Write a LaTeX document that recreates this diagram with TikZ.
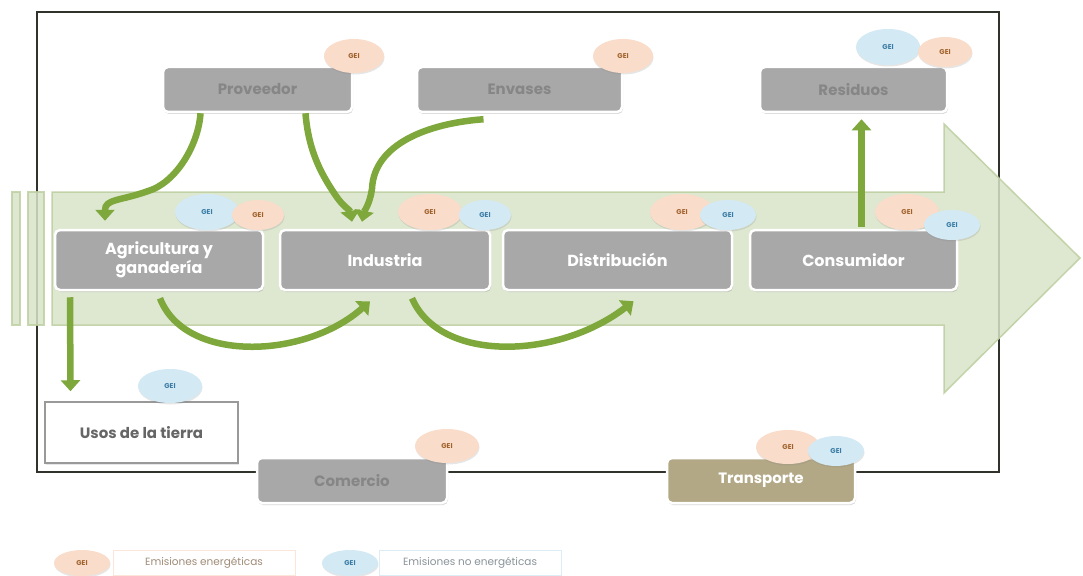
\documentclass[tikz,border=0pt]{standalone}
\usepackage{fontspec}
\setmainfont{Poppins}
\usetikzlibrary{arrows.meta,shadows,shapes.geometric,calc}
\definecolor{boxgray}{HTML}{A8A8A8}
\definecolor{toptext}{HTML}{868686}
\definecolor{arrowfill}{HTML}{D8E3C8}
\definecolor{arrowborder}{HTML}{BFD0A3}
\definecolor{ggreen}{HTML}{7EA83C}
\definecolor{framec}{HTML}{30332B}
\definecolor{ofill}{HTML}{F9DCC9}
\definecolor{otext}{HTML}{A0622D}
\definecolor{bfill}{HTML}{D3E9F4}
\definecolor{btext}{HTML}{3A7CA5}
\definecolor{tan}{HTML}{B3A885}
\definecolor{legtext}{HTML}{A08C78}
\definecolor{legtextb}{HTML}{8A9499}
\begin{document}
\begin{tikzpicture}[x=1pt,y=-1pt,
  box/.style={draw=white, line width=2.5pt, fill=boxgray, rounded corners=5pt,
    inner sep=0pt, align=center,
    drop shadow={opacity=0.3, shadow xshift=1pt, shadow yshift=-2pt}},
  topbox/.style={box, minimum height=45pt, text=toptext, font=\fontsize{15}{17}\selectfont\bfseries},
  midbox/.style={box, minimum height=60pt, text=white, font=\fontsize{16}{18}\selectfont\bfseries},
  gei/.style={ellipse, inner sep=0pt, minimum width=60pt, minimum height=34pt,
    font=\fontsize{7}{7}\selectfont\bfseries,
    drop shadow={opacity=0.2, shadow xshift=0.5pt, shadow yshift=-1.5pt}},
  geiO/.style={gei, fill=ofill, text=otext},
  geiB/.style={gei, fill=bfill, text=btext},
  garrow/.style={draw=ggreen, line width=6.5pt, -{Triangle[length=11pt,width=19pt]}},
  legbox/.style={draw=#1, line width=0.8pt, fill=white, minimum height=25pt, inner sep=0pt,
    font=\fontsize{10.5}{12}\selectfont}
]
\useasboundingbox (0,0) rectangle (1083,575);
% frame
\draw[framec, line width=2.5pt] (37,12) rectangle (999,472);
% big arrow
\fill[arrowfill, opacity=0.85] (52,192) -- (944,192) -- (944,124) -- (1080,258) -- (944,393) -- (944,325) -- (52,325) -- cycle;
\draw[arrowborder, line width=1.5pt, opacity=0.9] (52,192) -- (944,192) -- (944,124) -- (1080,258) -- (944,393) -- (944,325) -- (52,325) -- cycle;
% stripes
\draw[arrowborder, fill=arrowfill, line width=1.5pt, opacity=0.85] (12,192) rectangle (20,325);
\draw[arrowborder, fill=arrowfill, line width=1.5pt, opacity=0.85] (28,192) rectangle (44,325);

% boxes
\node[topbox, minimum width=189pt] (prov) at (257.5,89.5) {Proveedor};
\node[topbox, minimum width=205pt] (env) at (519.5,89.5) {Envases};
\node[topbox, minimum width=187pt] (res) at (853.5,89.5) {Residuos};
\node[midbox, minimum width=208pt] (agri) at (159,260) {Agricultura y\\[1pt]ganadería};
\node[midbox, minimum width=210pt] (ind) at (385,260) {Industria};
\node[midbox, minimum width=229pt] (dist) at (617.5,260) {Distribución};
\node[midbox, minimum width=207pt] (cons) at (853.5,260) {Consumidor};
\node[draw=gray!80, line width=1.5pt, fill=white, minimum width=193pt, minimum height=61pt,
  inner sep=0pt, text=black!60, font=\fontsize{15}{17}\selectfont\bfseries,
  drop shadow={opacity=0.2, shadow xshift=1pt, shadow yshift=-2pt}] (usos) at (141.5,432.5) {Usos de la tierra};
\node[topbox, minimum width=190pt] (com) at (352,480.5) {Comercio};
\node[topbox, minimum width=188pt, fill=tan, text=white] (trans) at (761,480.5) {Transporte};

% green connectors
\draw[garrow] ([xshift=-57pt]prov.south) .. controls +(-2,32) and +(28,-8) .. ([xshift=-110pt,yshift=-78pt]prov.south)
  .. controls +(-28,10) and +(0,-22) .. ([xshift=-54pt,yshift=8pt]agri.north);
\draw[garrow] ([xshift=48pt]prov.south) .. controls +(3,40) and +(-12,-18) .. ([xshift=78pt,yshift=-82pt]prov.south)
  .. controls +(8,12) and +(-2,-12) .. ([xshift=-33pt,yshift=7pt]ind.north);
\draw[garrow] ([xshift=-36pt,yshift=-6pt]env.south) .. controls +(-55,4) and +(2,-45) .. ([xshift=-13pt,yshift=40pt]ind.north)
  .. controls +(-2,15) and +(2,-10) .. ([xshift=-23pt,yshift=7pt]ind.north);
\draw[garrow] ([xshift=8pt,yshift=2pt]cons.north) -- ([xshift=8pt,yshift=-6pt]res.south);
\draw[garrow] ([xshift=1pt,yshift=-7pt]agri.south) .. controls +(25,65) and +(-65,58) .. ([xshift=-15pt,yshift=-10pt]ind.south);
\draw[garrow] ([xshift=27pt,yshift=-7pt]ind.south) .. controls +(28,65) and +(-75,58) .. ([xshift=16pt,yshift=-10pt]dist.south);
\draw[garrow] ([xshift=-89pt,yshift=-6pt]agri.south) -- ([xshift=-71pt,yshift=10pt]usos.north);

% GEI ellipses
\node[geiO] (gprov) at (354,56) {GEI};
\node[geiO] (genv) at (623,56) {GEI};
\node[geiB, minimum width=64pt, minimum height=36pt] (gresB) at (888,47) {GEI};
\node[geiO, minimum width=54pt, minimum height=30pt] (gresO) at (945,52) {GEI};
\node[geiB, minimum width=64pt, minimum height=36pt] (gagriB) at (207,212) {GEI};
\node[geiO, minimum width=52pt, minimum height=30pt] (gagriO) at (258,215) {GEI};
\node[geiO, minimum width=64pt, minimum height=36pt] (gindO) at (430,212) {GEI};
\node[geiB, minimum width=52pt, minimum height=30pt] (gindB) at (485,215) {GEI};
\node[geiO, minimum width=64pt, minimum height=36pt] (gdistO) at (682,212) {GEI};
\node[geiB, minimum width=56pt, minimum height=30pt] (gdistB) at (728,215) {GEI};
\node[geiO, minimum width=64pt, minimum height=36pt] (gconsO) at (907,212) {GEI};
\node[geiB, minimum width=56pt, minimum height=30pt] (gconsB) at (952,225) {GEI};
\node[geiB, minimum width=64pt, minimum height=34pt] (gusos) at (170,386) {GEI};
\node[geiO, minimum width=64pt, minimum height=34pt] (gcom) at (447,446) {GEI};
\node[geiO, minimum width=64pt, minimum height=34pt] (gtransO) at (788,447) {GEI};
\node[geiB, minimum width=56pt, minimum height=30pt] (gtransB) at (836,451) {GEI};

% legend
\node[legbox=ofill!70, minimum width=182pt, text=legtext] (legO) at (204,563) {Emisiones energéticas};
\node[geiO, minimum width=56pt, minimum height=26pt] (legOe) at (82,563) {GEI};
\node[legbox=bfill!80, minimum width=182pt, text=legtextb] (legB) at (470,563) {Emisiones no energéticas};
\node[geiB, minimum width=56pt, minimum height=26pt] (legBe) at (350,563) {GEI};
\end{tikzpicture}
\end{document}
